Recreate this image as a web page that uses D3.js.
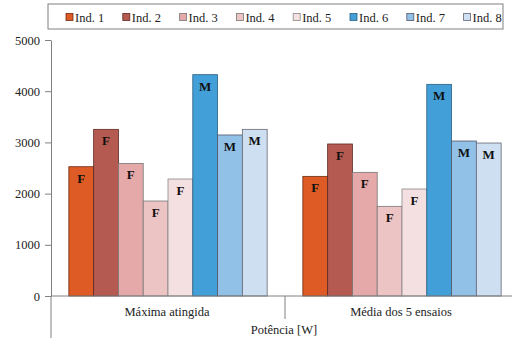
<!DOCTYPE html>
<html>
<head>
<meta charset="utf-8">
<script src="https://cdn.jsdelivr.net/npm/d3@7"></script>
<style>
body { margin: 0; background: #fff; }
svg text { font-family: "Liberation Serif", "DejaVu Serif", serif !important; }
</style>
</head>
<body>
<script>
var groups = ["Máxima atingida", "Média dos 5 ensaios"];
var series = ["Ind. 1", "Ind. 2", "Ind. 3", "Ind. 4", "Ind. 5", "Ind. 6", "Ind. 7", "Ind. 8"];
var sexes = ["F", "F", "F", "F", "F", "M", "M", "M"];
var maxima = [2525, 3255, 2590, 1855, 2285, 4323, 3145, 3255];
var media = [2337, 2969, 2415, 1751, 2090, 4134, 3027, 2988];
var yTicks = [0, 1000, 2000, 3000, 4000, 5000];
var colors = ["#df5b26", "#b55a50", "#e6a9a9", "#edc4c4", "#f4e0e0", "#439fd7", "#92c1e8", "#cddff0"];
var strokes = ["#6b2a10", "#5e2a24", "#777", "#777", "#888", "#2a5f80", "#556", "#667"];

var W = 512, H = 338;
var margin = { left: 51, right: -7, top: 40, bottom: 42 };
var svg = d3.select("body").append("svg").attr("width", W).attr("height", H);

var x0 = d3.scaleBand().domain(groups).range([margin.left, W - margin.right]).paddingInner(0).paddingOuter(0);
var x1 = d3.scaleBand().domain(series).range([0, x0.bandwidth()]).paddingOuter(0.72);
var y = d3.scaleLinear().domain([0, 5000]).range([H - margin.bottom, margin.top]);

var data = [maxima, media];

// y axis
var yAxis = svg.append("g").attr("transform", "translate(" + margin.left + ",0)")
  .call(d3.axisLeft(y).tickValues(yTicks).tickFormat(d3.format("d")).tickSize(6).tickPadding(5).tickSizeOuter(0));
yAxis.select(".domain").attr("stroke", "#808080");
yAxis.selectAll(".tick line").attr("stroke", "#808080");
yAxis.selectAll("text").attr("font-size", 12.5).attr("fill", "#222");

// bars
var g = svg.selectAll("g.grp").data(groups).enter().append("g")
  .attr("class", "grp")
  .attr("transform", function(d) { return "translate(" + x0(d) + ",0)"; });

g.each(function(grp, gi) {
  var sel = d3.select(this);
  var vals = data[gi];
  sel.selectAll("rect").data(vals).enter().append("rect")
    .attr("x", function(d, i) { return x1(series[i]); })
    .attr("y", function(d) { return y(d); })
    .attr("width", x1.bandwidth())
    .attr("height", function(d) { return y(0) - y(d); })
    .attr("fill", function(d, i) { return colors[i]; })
    .attr("stroke", function(d, i) { return strokes[i]; })
    .attr("stroke-width", 0.8);
  sel.selectAll("text.lab").data(vals).enter().append("text")
    .attr("class", "lab")
    .attr("x", function(d, i) { return x1(series[i]) + x1.bandwidth() / 2; })
    .attr("y", function(d) { return y(d) + 16; })
    .attr("text-anchor", "middle")
    .attr("font-size", 13)
    .attr("font-weight", "bold")
    .attr("fill", "#111")
    .text(function(d, i) { return sexes[i]; });
});

// x axis
var y0 = y(0);
svg.append("line").attr("x1", margin.left).attr("x2", W).attr("y1", y0).attr("y2", y0)
  .attr("stroke", "#808080");
svg.append("line").attr("x1", margin.left).attr("x2", margin.left).attr("y1", y0).attr("y2", H)
  .attr("stroke", "#808080");
svg.append("line").attr("x1", x0(groups[1])).attr("x2", x0(groups[1])).attr("y1", y0).attr("y2", y0 + 23)
  .attr("stroke", "#808080");
svg.selectAll("text.cat").data(groups).enter().append("text")
  .attr("class", "cat")
  .attr("x", function(d) { return x0(d) + x0.bandwidth() / 2 - 1; })
  .attr("y", y0 + 20)
  .attr("text-anchor", "middle")
  .attr("font-size", 12.5)
  .attr("fill", "#222")
  .text(function(d) { return d; });
svg.append("text").attr("x", 284).attr("y", H - 4).attr("text-anchor", "middle")
  .attr("font-size", 12.5).attr("fill", "#222").text("Potência [W]");

// legend
svg.append("rect").attr("x", 48).attr("y", 4).attr("width", 455).attr("height", 25)
  .attr("fill", "#fff").attr("stroke", "#808080");
var lg = svg.selectAll("g.leg").data(series).enter().append("g")
  .attr("class", "leg")
  .attr("transform", function(d, i) { return "translate(" + (66 + i * 56.8) + ",12)"; });
lg.append("rect").attr("width", 7).attr("height", 7).attr("y", 1.5)
  .attr("fill", function(d, i) { return colors[i]; })
  .attr("stroke", function(d, i) { return strokes[i]; }).attr("stroke-width", 0.8);
lg.append("text").attr("x", 9).attr("y", 10).attr("font-size", 12.5).attr("fill", "#222")
  .text(function(d) { return d; });
</script>
</body>
</html>
